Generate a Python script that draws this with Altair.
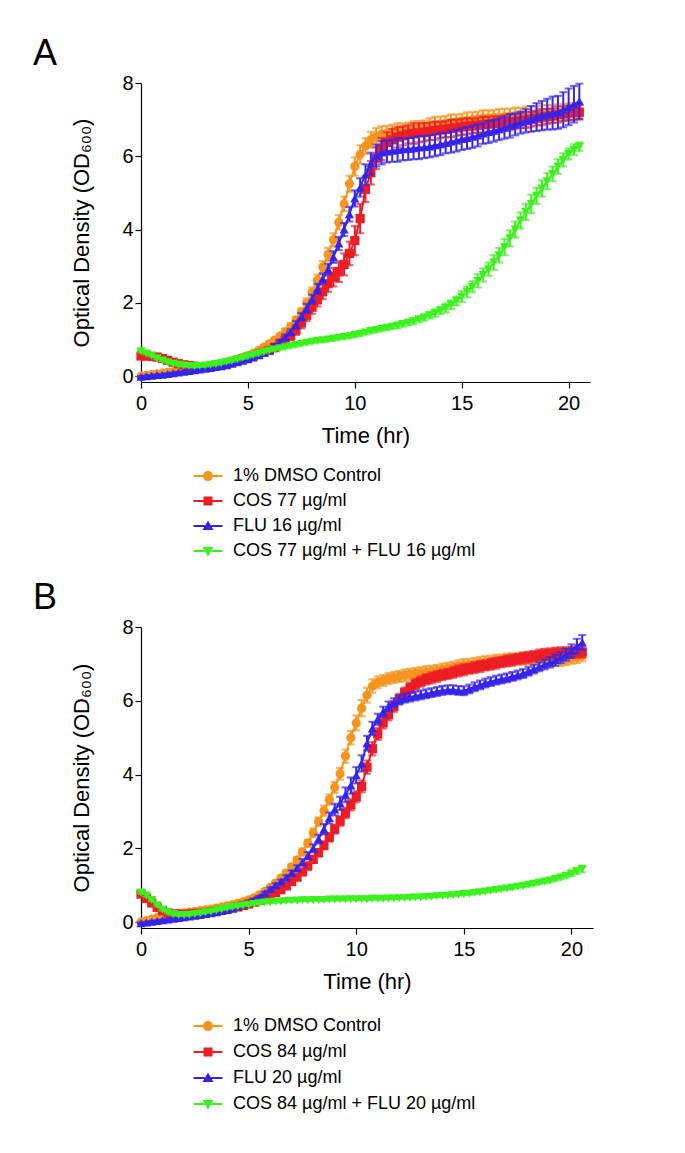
import altair as alt
import pandas as pd

# sampling grid (hours), every 15 min from 0 to 20.5 h
HOURS = [round(0.25 * i, 2) for i in range(83)]

LABELS_A = ["1% DMSO Control", "COS 77 µg/ml", "FLU 16 µg/ml", "COS 77 µg/ml + FLU 16 µg/ml"]
LABELS_B = ["1% DMSO Control", "COS 84 µg/ml", "FLU 20 µg/ml", "COS 84 µg/ml + FLU 20 µg/ml"]
COLORS = ["#F7941E", "#EE1C24", "#3524EE", "#3CF21E"]
SHAPES = ["circle", "square", "triangle-up", "triangle-down"]
X_TICKS = [0, 5, 10, 15, 20]
Y_TICKS = [0, 2, 4, 6, 8]

# ---------------- Panel A (means) ----------------
A_DMSO = [0.00,0.02,0.04,0.06,0.08,0.10,0.12,0.14,0.16,0.18,0.20,0.22,0.25,0.27,0.30,0.34,0.38,0.42,0.46,0.51,
          0.56,0.62,0.70,0.79,0.88,0.98,1.09,1.21,1.35,1.53,1.74,2.00,2.28,2.62,2.98,3.32,3.72,4.20,4.70,5.25,
          5.72,6.05,6.28,6.45,6.55,6.60,6.63,6.66,6.68,6.70,6.72,6.74,6.76,6.80,6.84,6.86,6.88,6.90,6.92,6.94,
          6.96,6.98,7.00,7.02,7.04,7.05,7.06,7.07,7.08,7.10,7.11,7.12,7.14,7.15,7.16,7.17,7.18,7.19,7.20,7.21,
          7.22,7.23,7.25]
A_COS = [0.55,0.55,0.54,0.52,0.48,0.43,0.38,0.34,0.31,0.29,0.27,0.26,0.26,0.27,0.29,0.31,0.34,0.38,0.42,0.47,
         0.52,0.56,0.60,0.65,0.70,0.78,0.87,0.98,1.10,1.26,1.45,1.66,1.88,2.08,2.30,2.52,2.70,2.85,3.05,3.35,
         3.70,4.30,5.10,5.55,5.95,6.20,6.38,6.45,6.52,6.56,6.60,6.62,6.64,6.66,6.68,6.70,6.72,6.74,6.76,6.78,
         6.80,6.82,6.83,6.85,6.86,6.88,6.89,6.90,6.92,6.93,6.95,6.97,6.99,7.01,7.04,7.07,7.09,7.11,7.14,7.16,
         7.18,7.19,7.20]
A_FLU = [-0.02,0.00,0.01,0.03,0.04,0.06,0.08,0.10,0.12,0.14,0.16,0.18,0.20,0.22,0.25,0.27,0.30,0.34,0.38,0.42,
         0.46,0.51,0.57,0.64,0.72,0.82,0.93,1.06,1.20,1.40,1.62,1.85,2.10,2.38,2.66,2.92,3.25,3.62,4.00,4.42,
         4.85,5.15,5.50,5.80,6.02,6.10,6.13,6.15,6.17,6.19,6.20,6.22,6.24,6.25,6.27,6.30,6.33,6.36,6.40,6.43,
         6.47,6.50,6.53,6.57,6.62,6.66,6.70,6.74,6.78,6.83,6.87,6.92,6.97,7.02,7.07,7.11,7.15,7.18,7.20,7.27,
         7.35,7.42,7.50]
A_COMBO = [0.68,0.62,0.56,0.49,0.43,0.38,0.34,0.31,0.29,0.28,0.27,0.28,0.29,0.31,0.33,0.36,0.39,0.42,0.46,0.50,
           0.54,0.58,0.62,0.66,0.70,0.73,0.76,0.79,0.82,0.85,0.88,0.91,0.94,0.96,0.98,1.00,1.02,1.05,1.07,1.09,
           1.12,1.15,1.19,1.23,1.26,1.29,1.32,1.35,1.38,1.42,1.46,1.50,1.55,1.60,1.66,1.72,1.79,1.86,1.95,2.05,
           2.17,2.30,2.44,2.60,2.76,2.92,3.10,3.30,3.52,3.76,4.00,4.25,4.48,4.70,4.92,5.12,5.32,5.52,5.72,5.90,
           6.06,6.18,6.26]

# ---------------- Panel A (SD) ----------------
A_DMSO_SD = [0.03,0.03,0.03,0.03,0.03,0.03,0.03,0.03,0.03,0.03,0.03,0.03,0.03,0.03,0.03,0.04,0.04,0.04,0.04,0.05,
             0.05,0.05,0.06,0.06,0.07,0.08,0.08,0.09,0.10,0.10,0.12,0.12,0.14,0.15,0.16,0.18,0.18,0.20,0.20,0.22,
             0.25,0.25,0.22,0.22,0.22,0.22,0.20,0.20,0.22,0.20,0.20,0.22,0.20,0.18,0.20,0.22,0.20,0.20,0.22,0.20,
             0.20,0.22,0.20,0.20,0.22,0.20,0.20,0.22,0.22,0.20,0.22,0.20,0.22,0.22,0.20,0.22,0.22,0.20,0.22,0.20,
             0.22,0.22,0.20]
A_COS_SD = [0.05,0.05,0.05,0.05,0.05,0.04,0.04,0.04,0.04,0.04,0.03,0.03,0.03,0.03,0.03,0.04,0.04,0.04,0.04,0.05,
            0.05,0.05,0.06,0.07,0.08,0.10,0.10,0.12,0.12,0.14,0.15,0.16,0.18,0.18,0.20,0.22,0.25,0.28,0.30,0.32,
            0.40,0.40,0.35,0.32,0.30,0.30,0.28,0.30,0.28,0.26,0.25,0.28,0.26,0.25,0.24,0.25,0.22,0.22,0.24,0.22,
            0.22,0.22,0.20,0.20,0.22,0.20,0.20,0.20,0.20,0.22,0.20,0.20,0.22,0.20,0.20,0.22,0.20,0.20,0.22,0.20,
            0.20,0.20,0.20]
A_FLU_SD = [0.02,0.02,0.02,0.02,0.02,0.02,0.02,0.02,0.02,0.02,0.02,0.02,0.02,0.02,0.02,0.02,0.02,0.02,0.02,0.02,
            0.03,0.03,0.04,0.04,0.05,0.06,0.07,0.08,0.08,0.10,0.10,0.12,0.12,0.14,0.14,0.15,0.16,0.18,0.18,0.20,
            0.22,0.25,0.28,0.30,0.30,0.32,0.30,0.30,0.32,0.30,0.30,0.30,0.32,0.30,0.30,0.30,0.30,0.28,0.30,0.30,
            0.30,0.30,0.30,0.30,0.28,0.30,0.30,0.30,0.30,0.32,0.30,0.30,0.32,0.35,0.38,0.40,0.42,0.45,0.45,0.48,
            0.50,0.50,0.48]
A_COMBO_SD = [0.03,0.03,0.03,0.03,0.03,0.03,0.03,0.03,0.03,0.03,0.03,0.03,0.03,0.03,0.03,0.03,0.03,0.03,0.03,0.03,
              0.03,0.03,0.03,0.03,0.03,0.03,0.03,0.04,0.04,0.04,0.04,0.04,0.04,0.04,0.05,0.05,0.05,0.05,0.05,0.05,
              0.05,0.05,0.05,0.06,0.06,0.06,0.06,0.06,0.07,0.07,0.07,0.08,0.08,0.08,0.09,0.10,0.10,0.12,0.12,0.12,
              0.15,0.15,0.15,0.18,0.18,0.18,0.20,0.20,0.22,0.22,0.22,0.22,0.22,0.25,0.22,0.22,0.22,0.20,0.20,0.18,
              0.15,0.15,0.12]

# ---------------- Panel B (means) ----------------
B_DMSO = [0.00,0.04,0.08,0.12,0.16,0.19,0.21,0.23,0.25,0.27,0.29,0.31,0.33,0.35,0.38,0.41,0.44,0.47,0.51,0.55,
          0.60,0.66,0.74,0.83,0.94,1.06,1.19,1.33,1.50,1.68,1.90,2.14,2.42,2.72,3.02,3.32,3.65,4.02,4.50,5.00,
          5.40,5.80,6.15,6.40,6.50,6.55,6.60,6.63,6.66,6.69,6.72,6.74,6.76,6.78,6.80,6.82,6.85,6.88,6.91,6.94,
          6.97,6.99,7.01,7.03,7.05,7.07,7.09,7.10,7.12,7.13,7.14,7.14,7.14,7.13,7.12,7.11,7.10,7.10,7.10,7.12,
          7.15,7.18,7.22]
B_COS = [0.76,0.64,0.52,0.40,0.31,0.25,0.22,0.21,0.21,0.22,0.23,0.24,0.26,0.28,0.30,0.32,0.35,0.38,0.41,0.45,
         0.49,0.54,0.59,0.65,0.72,0.80,0.88,0.98,1.10,1.22,1.36,1.52,1.70,1.88,2.08,2.30,2.52,2.74,2.96,3.18,
         3.40,3.68,4.20,4.70,5.10,5.40,5.62,5.85,6.05,6.22,6.35,6.45,6.52,6.58,6.62,6.66,6.70,6.73,6.77,6.81,
         6.84,6.87,6.90,6.93,6.96,6.99,7.02,7.05,7.08,7.10,7.13,7.16,7.18,7.21,7.24,7.26,7.28,7.29,7.30,7.31,
         7.31,7.32,7.32]
B_FLU = [-0.03,-0.01,0.01,0.03,0.05,0.07,0.09,0.11,0.13,0.15,0.17,0.19,0.22,0.24,0.27,0.30,0.33,0.37,0.42,0.47,
         0.53,0.60,0.68,0.78,0.90,1.00,1.10,1.21,1.33,1.46,1.62,1.80,2.00,2.25,2.52,2.82,3.05,3.22,3.45,3.70,
         3.98,4.30,4.85,5.25,5.50,5.70,5.85,5.95,6.02,6.07,6.10,6.13,6.16,6.19,6.22,6.25,6.28,6.30,6.30,6.28,
         6.27,6.32,6.38,6.43,6.48,6.52,6.56,6.59,6.62,6.66,6.70,6.74,6.80,6.86,6.92,6.98,7.04,7.10,7.17,7.25,
         7.35,7.48,7.58]
B_COMBO = [0.80,0.72,0.60,0.46,0.34,0.26,0.21,0.19,0.19,0.20,0.22,0.24,0.27,0.29,0.32,0.35,0.38,0.41,0.43,0.45,
           0.47,0.49,0.51,0.53,0.54,0.55,0.56,0.57,0.58,0.58,0.59,0.59,0.60,0.60,0.60,0.61,0.61,0.61,0.61,0.62,
           0.62,0.62,0.62,0.63,0.63,0.63,0.64,0.64,0.65,0.65,0.66,0.67,0.67,0.68,0.69,0.70,0.71,0.72,0.73,0.74,
           0.76,0.77,0.79,0.81,0.83,0.85,0.87,0.89,0.91,0.93,0.96,0.98,1.01,1.04,1.07,1.10,1.13,1.17,1.21,1.26,
           1.32,1.38,1.44]

# ---------------- Panel B (SD) ----------------
B_DMSO_SD = [0.03,0.03,0.03,0.03,0.03,0.03,0.03,0.03,0.03,0.03,0.03,0.03,0.03,0.03,0.03,0.03,0.03,0.03,0.03,0.03,
             0.04,0.04,0.05,0.05,0.06,0.06,0.07,0.08,0.08,0.09,0.10,0.10,0.12,0.12,0.14,0.14,0.15,0.16,0.18,0.18,
             0.20,0.22,0.20,0.18,0.16,0.15,0.15,0.15,0.15,0.16,0.15,0.15,0.15,0.16,0.15,0.15,0.16,0.15,0.15,0.16,
             0.16,0.15,0.15,0.16,0.16,0.15,0.16,0.15,0.16,0.16,0.15,0.16,0.16,0.15,0.16,0.16,0.15,0.16,0.16,0.15,
             0.15,0.16,0.15]
B_COS_SD = [0.04,0.04,0.04,0.04,0.04,0.04,0.04,0.04,0.04,0.04,0.04,0.04,0.04,0.04,0.04,0.04,0.04,0.04,0.04,0.04,
            0.04,0.04,0.05,0.05,0.05,0.06,0.06,0.07,0.07,0.08,0.08,0.09,0.10,0.10,0.11,0.12,0.12,0.13,0.14,0.15,
            0.15,0.16,0.18,0.18,0.16,0.15,0.15,0.15,0.14,0.14,0.14,0.15,0.14,0.14,0.15,0.15,0.14,0.14,0.15,0.15,
            0.15,0.14,0.15,0.15,0.14,0.15,0.15,0.14,0.15,0.15,0.14,0.15,0.15,0.14,0.15,0.15,0.14,0.15,0.15,0.14,
            0.15,0.15,0.15]
B_FLU_SD = [0.02,0.02,0.02,0.02,0.02,0.02,0.02,0.02,0.02,0.02,0.02,0.02,0.02,0.02,0.02,0.02,0.02,0.02,0.02,0.02,
            0.03,0.03,0.03,0.04,0.04,0.05,0.05,0.06,0.07,0.08,0.09,0.10,0.11,0.12,0.14,0.15,0.16,0.18,0.20,0.22,
            0.22,0.22,0.20,0.18,0.15,0.14,0.13,0.12,0.12,0.12,0.12,0.12,0.12,0.12,0.12,0.12,0.12,0.12,0.12,0.12,
            0.12,0.12,0.12,0.12,0.12,0.12,0.12,0.12,0.12,0.12,0.12,0.12,0.12,0.12,0.12,0.13,0.14,0.15,0.15,0.16,
            0.18,0.20,0.20]
B_COMBO_SD = [0.03,0.03,0.03,0.03,0.03,0.02,0.02,0.02,0.02,0.02,0.02,0.02,0.02,0.02,0.02,0.02,0.02,0.02,0.02,0.02,
              0.02,0.02,0.02,0.02,0.02,0.02,0.02,0.02,0.02,0.02,0.02,0.02,0.02,0.02,0.02,0.02,0.02,0.02,0.02,0.02,
              0.02,0.02,0.02,0.02,0.02,0.02,0.02,0.02,0.02,0.02,0.02,0.02,0.02,0.02,0.02,0.02,0.02,0.02,0.02,0.02,
              0.03,0.03,0.03,0.03,0.03,0.03,0.03,0.03,0.03,0.03,0.03,0.03,0.04,0.04,0.04,0.04,0.05,0.05,0.05,0.06,
              0.07,0.08,0.09]

# legend glyphs: line segment with the series marker (custom symbol paths)
LEGEND_PATHS = [
    "M-1.61,-0.11H-0.55V0.11H-1.61Z M0.55,-0.11H1.61V0.11H0.55Z M-0.56,0A0.56 0.56 0 1 1 0.56,0A0.56 0.56 0 1 1 -0.56,0Z",
    "M-1.61,-0.11H-0.5V0.11H-1.61Z M0.5,-0.11H1.61V0.11H0.5Z M-0.5,-0.5H0.5V0.5H-0.5Z",
    "M-1.61,-0.11H-0.35V0.11H-1.61Z M0.35,-0.11H1.61V0.11H0.35Z M0,-0.6L0.62,0.45H-0.62Z",
    "M-1.61,-0.11H-0.35V0.11H-1.61Z M0.35,-0.11H1.61V0.11H0.35Z M0,0.6L0.62,-0.45H-0.62Z",
]

FONT = "Liberation Sans"


def panel(letter, labels, means, sds, width, height, legend_y, row_pad):
    rows = []
    for name, vals, errs in zip(labels, means, sds):
        for h, v, s in zip(HOURS, vals, errs):
            rows.append({"series": name, "hour": h, "od": v, "lo": v - s, "hi": v + s})
    df = pd.DataFrame(rows)

    xs = alt.Scale(domain=[0, 21], nice=False, zero=False)
    ys = alt.Scale(domain=[-0.16, 8], nice=False, zero=False)
    xa = alt.Axis(values=X_TICKS, title="Time (hr)", grid=False, labelPadding=5,
                  titlePadding=12, tickSize=6, labelFlush=False)
    ya = alt.Axis(values=Y_TICKS, title="Optical Density (OD₆₀₀)", grid=False,
                  labelPadding=2, titlePadding=28, tickSize=6)
    X = alt.X("hour:Q", scale=xs, axis=xa)

    def Y(field):
        return alt.Y(f"{field}:Q", scale=ys, axis=ya)

    layers = []
    for i, name in enumerate(labels):
        c = COLORS[i]
        base = alt.Chart(df).transform_filter(alt.datum.series == name)
        layers += [
            base.mark_rule(color=c, strokeWidth=2).encode(x=X, y=Y("lo"), y2="hi:Q"),
            base.mark_tick(color=c, orient="horizontal", size=8, thickness=2).encode(x=X, y=Y("hi")),
            base.mark_tick(color=c, orient="horizontal", size=8, thickness=2).encode(x=X, y=Y("lo")),
            base.mark_line(color=c, strokeWidth=2).encode(x=X, y=Y("od")),
            base.mark_point(shape=SHAPES[i], filled=True, size=85, color=c, opacity=1,
                            strokeWidth=0).encode(x=X, y=Y("od")),
        ]

    leg = alt.Legend(orient="none", legendX=58, legendY=legend_y, title=None,
                     labelFont=FONT, labelFontSize=18, labelColor="black",
                     symbolSize=324, symbolStrokeWidth=0, symbolOpacity=1,
                     rowPadding=row_pad, labelOffset=16, labelLimit=600)
    legend_layer = alt.Chart(df).transform_filter("false").mark_point(filled=True, opacity=1).encode(
        x=X, y=Y("od"),
        color=alt.Color("series:N", scale=alt.Scale(domain=labels, range=COLORS), legend=leg),
        shape=alt.Shape("series:N", scale=alt.Scale(domain=labels, range=LEGEND_PATHS), legend=leg),
    )
    layers.append(legend_layer)

    return alt.layer(*layers).properties(
        width=width, height=height,
        title=alt.TitleParams(text=letter, anchor="start", frame="group", dx=-108, offset=0,
                              fontSize=36, font=FONT, fontWeight="normal", color="black"),
    )


pa = panel("A", LABELS_A, [A_DMSO, A_COS, A_FLU, A_COMBO],
           [A_DMSO_SD, A_COS_SD, A_FLU_SD, A_COMBO_SD], 449, 299, 384, 7)
pb = panel("B", LABELS_B, [B_DMSO, B_COS, B_FLU, B_COMBO],
           [B_DMSO_SD, B_COS_SD, B_FLU_SD, B_COMBO_SD], 452, 301, 390, 8)

chart = (
    alt.vconcat(pa, pb, spacing=20)
    .resolve_scale(color="independent", shape="independent", x="independent", y="independent")
    .resolve_legend(color="independent", shape="independent")
    .properties(padding={"left": 25, "top": 28, "right": 5, "bottom": 5})
    .configure_view(stroke=None)
    .configure_axis(domainColor="black", tickColor="black", labelColor="black", titleColor="black",
                    labelFont=FONT, titleFont=FONT, labelFontSize=20, titleFontSize=22,
                    titleFontWeight="normal", domainWidth=1.2, tickWidth=1.2)
)

chart.save("out.html", embed_options={"renderer": "svg", "actions": False})
